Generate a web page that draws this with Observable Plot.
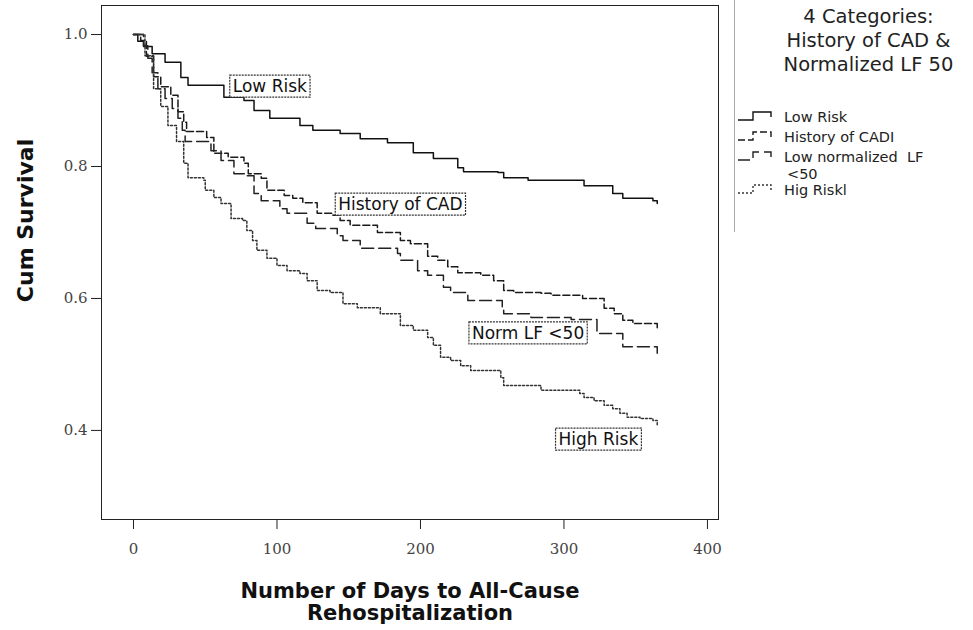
<!DOCTYPE html>
<html><head><meta charset="utf-8">
<script src="https://cdn.jsdelivr.net/npm/d3@7"></script>
<script src="https://cdn.jsdelivr.net/npm/@observablehq/plot@0.6"></script>
<style>
body{margin:0;background:#fff;}
#wrap{position:relative;width:973px;height:630px;overflow:hidden;font-family:"DejaVu Sans",sans-serif;}
#chart{position:absolute;left:0;top:0;}
#legend{position:absolute;left:734px;top:0;width:239px;height:232px;border-left:1px solid #aaa;}
#legend .lt{position:absolute;left:14px;width:239px;top:5px;text-align:center;font-size:19.5px;line-height:24px;color:#222;}
#legend .it{position:absolute;left:49px;font-size:14.5px;line-height:14px;color:#222;white-space:pre;}
#legend svg{position:absolute;left:2px;}
</style></head><body>
<div id="wrap"><div id="chart"></div><div id="legend"></div></div>
<script>
// Kaplan-Meier step curves (day, cumulative survival)
const lowRiskDays = [0,3,7,13,22,33,38,63,77,84,95,116,125,144,158,177,195,209,226,230,254,258,275,314,334,341,362,365];
const lowRiskSurv = [1.0,0.99,0.982,0.971,0.958,0.935,0.923,0.905,0.900,0.885,0.873,0.862,0.855,0.850,0.842,0.836,0.821,0.812,0.798,0.792,0.791,0.783,0.779,0.771,0.759,0.752,0.748,0.744];
const histCadDays = [0,5,9,14,19,26,31,35,37,51,56,66,77,80,89,93,105,111,118,128,139,144,151,170,186,193,205,212,219,226,242,251,258,265,284,291,313,328,335,341,348,365];
const histCadSurv = [1.0,0.991,0.967,0.936,0.921,0.908,0.883,0.867,0.853,0.844,0.820,0.814,0.805,0.789,0.782,0.764,0.756,0.752,0.745,0.729,0.726,0.718,0.711,0.700,0.688,0.683,0.664,0.658,0.648,0.639,0.635,0.627,0.612,0.609,0.608,0.605,0.600,0.585,0.577,0.567,0.562,0.555];
const normLfDays = [0,7,10,13,17,22,27,31,34,36,54,61,70,78,84,89,102,107,121,127,142,146,158,184,186,198,205,216,221,233,257,258,277,305,323,341,365];
const normLfSurv = [1.0,0.983,0.964,0.942,0.918,0.903,0.888,0.873,0.855,0.838,0.824,0.809,0.789,0.786,0.759,0.748,0.736,0.729,0.714,0.706,0.695,0.688,0.676,0.668,0.658,0.642,0.635,0.617,0.609,0.597,0.586,0.577,0.571,0.568,0.547,0.527,0.517];
const highRiskDays = [0,8,14,19,24,30,35,38,49,50,56,61,68,76,79,83,86,93,100,107,116,121,128,137,146,156,172,186,195,205,209,214,221,228,235,256,258,284,311,314,321,328,334,339,344,353,362,365];
const highRiskSurv = [1.0,0.968,0.918,0.891,0.862,0.838,0.805,0.783,0.779,0.764,0.753,0.744,0.721,0.718,0.703,0.688,0.673,0.661,0.650,0.642,0.638,0.627,0.612,0.609,0.592,0.586,0.577,0.559,0.552,0.541,0.529,0.511,0.506,0.498,0.491,0.480,0.468,0.461,0.456,0.450,0.445,0.438,0.433,0.426,0.420,0.418,0.415,0.406];

const seriesNames = ["Low Risk","History of CAD","Norm LF <50","High Risk"];
const legendLabels = ["Low Risk","History of CADI","Low normalized  LF","Hig Riskl"];
const legendTitle = ["4 Categories:","History of CAD &","Normalized LF 50"];
const xTicks = [0,100,200,300,400];
const yTicks = [0.4,0.6,0.8,1.0];
const labelText = ["Low Risk","History of CAD","Norm LF <50","High Risk"];
const labelDay = [95,186,275,324];
const labelSurv = [0.921,0.742,0.547,0.386];

const dashes = [null,"7,3","12,5","2,2"];
const strokes = ["#111","#1a1a1a","#222","#333"];

const allDays = [lowRiskDays,histCadDays,normLfDays,highRiskDays];
const allSurv = [lowRiskSurv,histCadSurv,normLfSurv,highRiskSurv];
const lineMarks = seriesNames.map((name,i)=>{
  const rows = allDays[i].map((d,j)=>({series:name, day:d, surv:allSurv[i][j]}));
  return Plot.line(rows,{x:"day",y:"surv",curve:"step-after",stroke:strokes[i],strokeWidth:1.5,strokeDasharray:dashes[i]||undefined});
});
const labels = labelText.map((t,i)=>({t, day:labelDay[i], surv:labelSurv[i]}));

const chart = Plot.plot({
  width:973, height:630,
  marginLeft:101, marginRight:255, marginTop:5, marginBottom:111,
  x:{domain:[-22.3,407.7]},
  y:{domain:[0.265,1.044]},
  style:{fontFamily:"DejaVu Serif", fontSize:"15px", color:"#444", background:"white"},
  marks:[
    Plot.frame({stroke:"#222"}),
    Plot.axisX({ticks:xTicks, tickSize:10, tickPadding:14, label:null, fontSize:15, stroke:"#222"}),
    Plot.axisY({ticks:yTicks, tickFormat:d3.format(".1f"), tickSize:10, tickPadding:4, label:null, fontSize:15, stroke:"#222"}),
    ...lineMarks,
    Plot.text(labels,{x:"day",y:"surv",text:"t",fontFamily:"DejaVu Sans",fontSize:17,fill:"#111",className:"lbl"}),
    Plot.text(["Cum Survival"],{frameAnchor:"left",rotate:-90,dx:-76,dy:-42,textAnchor:"middle",lineAnchor:"middle",fontFamily:"DejaVu Sans",fontSize:22,fontWeight:"bold",fill:"#111"}),
    Plot.text(["Number of Days to All-Cause\nRehospitalization"],{frameAnchor:"bottom",dy:63,textAnchor:"middle",lineAnchor:"top",lineHeight:1.05,fontFamily:"DejaVu Sans",fontSize:21,fontWeight:"bold",fill:"#111"})
  ]
});
document.getElementById("chart").appendChild(chart);

// boxes around in-plot labels
chart.querySelectorAll(".lbl text").forEach(t=>{
  const b = t.getBBox();
  const r = document.createElementNS("http://www.w3.org/2000/svg","rect");
  r.setAttribute("x",b.x-3); r.setAttribute("y",b.y-1);
  r.setAttribute("width",b.width+6); r.setAttribute("height",b.height+2);
  r.setAttribute("fill","white"); r.setAttribute("stroke","#333"); r.setAttribute("stroke-width","1.2");
  r.setAttribute("stroke-dasharray","2,1");
  const tr = t.getAttribute("transform"); if (tr) r.setAttribute("transform",tr);
  t.parentNode.insertBefore(r,t);
});

// legend
const lg = document.getElementById("legend");
const tt = document.createElement("div"); tt.className="lt"; tt.innerHTML = legendTitle.join("<br>"); lg.appendChild(tt);
const rowsY = [110,130,150,183];
legendLabels.forEach((name,i)=>{
  const s = document.createElementNS("http://www.w3.org/2000/svg","svg");
  s.setAttribute("width",46); s.setAttribute("height",16); s.style.top=(rowsY[i]-2)+"px";
  const p = document.createElementNS("http://www.w3.org/2000/svg","path");
  p.setAttribute("d","M1,12 H16 V4 H34 V9");
  p.setAttribute("fill","none"); p.setAttribute("stroke",strokes[i]); p.setAttribute("stroke-width","1.4");
  if (dashes[i]) p.setAttribute("stroke-dasharray",dashes[i]);
  s.appendChild(p); lg.appendChild(s);
  const d = document.createElement("div"); d.className="it"; d.style.top=rowsY[i]+"px";
  d.textContent = name;
  lg.appendChild(d);
  if (i===2) {
    const d2 = document.createElement("div"); d2.className="it"; d2.style.top=(rowsY[i]+17)+"px"; d2.style.left="52px";
    d2.textContent = "<50"; lg.appendChild(d2);
  }
});
</script>
</body></html>
